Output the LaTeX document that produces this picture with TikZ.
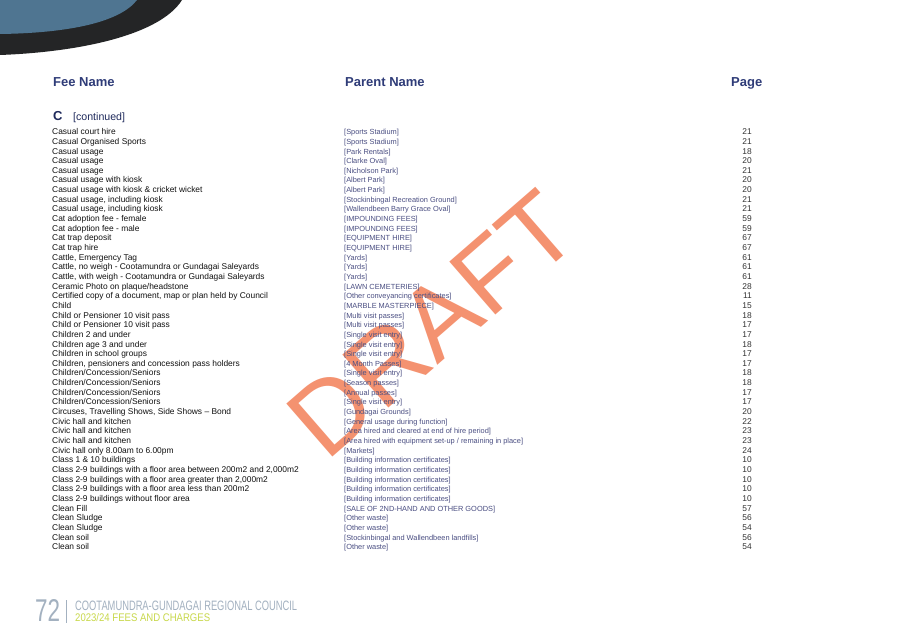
\documentclass[tikz,border=0pt]{standalone}
\usepackage{fontspec}
\setmainfont{Liberation Sans}
\usepackage{graphicx}
\definecolor{darkband}{HTML}{242526}
\definecolor{steelblue}{HTML}{4F7591}
\definecolor{hdrblue}{HTML}{2F3C78}
\definecolor{navy}{HTML}{1F2A5C}
\definecolor{feetext}{HTML}{111111}
\definecolor{parenttext}{HTML}{4A4E82}
\definecolor{pagetext}{HTML}{333333}
\definecolor{draftc}{RGB}{244,146,112}
\definecolor{footgray}{HTML}{A3B1C0}
\definecolor{footgreen}{HTML}{C8D84A}
\tikzset{
  hdr/.style={anchor=base west, inner sep=0pt, font=\fontsize{13}{15}\selectfont\bfseries, text=hdrblue},
  fee/.style={anchor=base west, inner sep=0pt, font=\fontsize{8.4}{10}\selectfont, text=feetext},
  pnt/.style={anchor=base west, inner sep=0pt, font=\fontsize{7.4}{9}\selectfont, text=parenttext},
  pgn/.style={anchor=base east, inner sep=0pt, font=\fontsize{8.4}{10}\selectfont, text=pagetext},
}
\begin{document}
\begin{tikzpicture}[x=1pt,y=-1pt]
\useasboundingbox[fill=white] (0,0) rectangle (907,626);
% top-left decoration
\fill[darkband] (0,0) -- (182,0) .. controls (160,35) and (80,52) .. (0,55) -- cycle;
\fill[steelblue] (0,0) -- (137,0) .. controls (120,22) and (70,33) .. (0,34) -- cycle;
% watermark
\node[rotate=41, text=draftc, inner sep=0pt, font=\fontsize{102}{102}\selectfont] (draft) at (432,324) {DRAFT};
% headers
\node[hdr] (h1) at (53,86.7) {Fee Name};
\node[hdr] (h2) at (345,86.7) {Parent Name};
\node[hdr] (h3) at (731,86.7) {Page};
\node[anchor=base west, inner sep=0pt, font=\fontsize{13}{15}\selectfont\bfseries, text=navy] (sec) at (53,120.5) {C};
\node[anchor=base west, inner sep=0pt, font=\fontsize{10.6}{12}\selectfont, text=navy] (cont) at (73,120.5) {[continued]};
% rows
\foreach \fe/\pn/\pg [count=\i from 0] in {
 {Casual court hire}/{Sports Stadium}/21,
 {Casual Organised Sports}/{Sports Stadium}/21,
 {Casual usage}/{Park Rentals}/18,
 {Casual usage}/{Clarke Oval}/20,
 {Casual usage}/{Nicholson Park}/21,
 {Casual usage with kiosk}/{Albert Park}/20,
 {Casual usage with kiosk \& cricket wicket}/{Albert Park}/20,
 {Casual usage, including kiosk}/{Stockinbingal Recreation Ground}/21,
 {Casual usage, including kiosk}/{Wallendbeen Barry Grace Oval}/21,
 {Cat adoption fee - female}/{IMPOUNDING FEES}/59,
 {Cat adoption fee - male}/{IMPOUNDING FEES}/59,
 {Cat trap deposit}/{EQUIPMENT HIRE}/67,
 {Cat trap hire}/{EQUIPMENT HIRE}/67,
 {Cattle, Emergency Tag}/{Yards}/61,
 {Cattle, no weigh - Cootamundra or Gundagai Saleyards}/{Yards}/61,
 {Cattle, with weigh - Cootamundra or Gundagai Saleyards}/{Yards}/61,
 {Ceramic Photo on plaque/headstone}/{LAWN CEMETERIES}/28,
 {Certified copy of a document, map or plan held by Council}/{Other conveyancing certificates}/11,
 {Child}/{MARBLE MASTERPIECE}/15,
 {Child or Pensioner 10 visit pass}/{Multi visit passes}/18,
 {Child or Pensioner 10 visit pass}/{Multi visit passes}/17,
 {Children 2 and under}/{Single visit entry}/17,
 {Children age 3 and under}/{Single visit entry}/18,
 {Children in school groups}/{Single visit entry}/17,
 {Children, pensioners and concession pass holders}/{4 Month Passes}/17,
 {Children/Concession/Seniors}/{Single visit entry}/18,
 {Children/Concession/Seniors}/{Season passes}/18,
 {Children/Concession/Seniors}/{Annual passes}/17,
 {Children/Concession/Seniors}/{Single visit entry}/17,
 {Circuses, Travelling Shows, Side Shows \textendash{} Bond}/{Gundagai Grounds}/20,
 {Civic hall and kitchen}/{General usage during function}/22,
 {Civic hall and kitchen}/{Area hired and cleared at end of hire period}/23,
 {Civic hall and kitchen}/{Area hired with equipment set-up / remaining in place}/23,
 {Civic hall only 8.00am to 6.00pm}/{Markets}/24,
 {Class 1 \& 10 buildings}/{Building information certificates}/10,
 {Class 2-9 buildings with a floor area between 200m2 and 2,000m2}/{Building information certificates}/10,
 {Class 2-9 buildings with a floor area greater than 2,000m2}/{Building information certificates}/10,
 {Class 2-9 buildings with a floor area less than 200m2}/{Building information certificates}/10,
 {Class 2-9 buildings without floor area}/{Building information certificates}/10,
 {Clean Fill}/{SALE OF 2ND-HAND AND OTHER GOODS}/57,
 {Clean Sludge}/{Other waste}/56,
 {Clean Sludge}/{Other waste}/54,
 {Clean soil}/{Stockinbingal and Wallendbeen landfills}/56,
 {Clean soil}/{Other waste}/54}
{
  \pgfmathsetmacro{\yy}{134.7+9.65*\i}
  \node[fee] (f\i) at (52,\yy) {\fe};
  \node[pnt] (p\i) at (344,\yy) {[\pn]};
  \node[pgn] (n\i) at (752,\yy) {\pg};
}
% footer
\node[anchor=south west, inner sep=0pt, text=footgray] (pnum) at (35,622) {\resizebox{25pt}{22pt}{72}};
\draw[footgray, line width=0.8pt] (66,600) -- (66,623);
\node[anchor=south west, inner sep=0pt, text=footgray] (council) at (75,611) {\resizebox{222pt}{9.5pt}{COOTAMUNDRA-GUNDAGAI REGIONAL COUNCIL}};
\node[anchor=south west, inner sep=0pt, text=footgreen] (fees) at (75,622) {\resizebox{135pt}{8pt}{2023/24 FEES AND CHARGES}};
\end{tikzpicture}
\end{document}
